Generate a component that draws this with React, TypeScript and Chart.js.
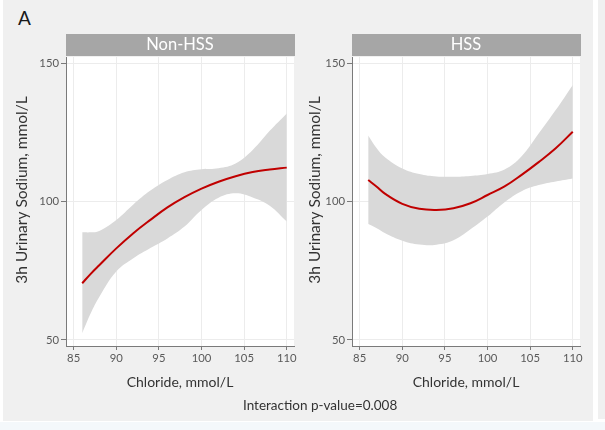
import React, { useEffect, useRef } from "react";
import { Chart, registerables } from "chart.js";

Chart.register(...registerables);

// ---- data ----
const chlorideLeft = [86, 87, 88, 90, 92, 94, 96, 98, 100, 102, 104, 106, 108, 110];
const nonHssFit = [70.5, 73.9, 77.0, 83.1, 88.6, 93.4, 97.9, 101.6, 104.7, 107.2, 109.2, 110.7, 111.6, 112.3];
const nonHssUpper = [88.9, 88.9, 89.4, 93.4, 99.0, 104.0, 107.8, 110.6, 111.7, 112.1, 113.8, 118.7, 125.6, 131.9];
const nonHssLower = [52.4, 59.6, 65.5, 74.7, 79.5, 83.2, 86.7, 91.0, 97.0, 101.4, 103.0, 101.5, 98.5, 92.8];

const chlorideRight = [86, 87, 88, 90, 92, 94, 96, 98, 100, 102, 104, 106, 108, 110];
const hssFit = [107.8, 105.4, 102.8, 99.2, 97.4, 97.0, 97.6, 99.4, 102.4, 105.5, 109.7, 114.3, 119.3, 125.3];
const hssUpper = [123.9, 119.3, 116.0, 112.0, 110.0, 109.1, 109.0, 109.3, 110.0, 111.6, 116.4, 124.6, 133.1, 142.2];
const hssLower = [91.9, 90.4, 88.6, 85.9, 84.5, 84.4, 86.0, 90.0, 94.6, 99.8, 103.8, 106.0, 107.3, 108.4];

const xTicks = [85, 90, 95, 100, 105, 110];
const yTicks = [50, 100, 150];
const xRange = [84.1, 110.85];
const yRange = [47.8, 152.3];

const panelTitles = ["Non-HSS", "HSS"];
const xTitle = "Chloride, mmol/L";
const yTitle = "3h Urinary Sodium, mmol/L";
const figureLabel = "A";
const footnote = "Interaction p-value=0.008";

const FONT = "Lato";

const panelPlugin = {
  id: "panel",
  beforeDraw(chart: any, _args: any, opts: any) {
    const { ctx, chartArea } = chart;
    const { left, top, right, bottom } = chartArea;
    ctx.save();
    ctx.fillStyle = "#ffffff";
    ctx.fillRect(left, top, right - left, bottom - top);
    ctx.fillStyle = "#a6a6a6";
    ctx.fillRect(left, top - 23, right - left + 1, 22);
    ctx.fillStyle = "#ffffff";
    ctx.font = `16.5px ${FONT}`;
    ctx.textAlign = "center";
    ctx.textBaseline = "middle";
    ctx.fillText(opts.label, (left + right) / 2, top - 12);
    // y axis title, centred on strip + panel
    ctx.fillStyle = "#333333";
    ctx.font = `15.5px ${FONT}`;
    ctx.textBaseline = "alphabetic";
    ctx.translate(opts.yTitleX, (top - 23 + bottom) / 2);
    ctx.rotate(-Math.PI / 2);
    ctx.fillText(yTitle, 0, 0);
    ctx.restore();
  },
};

function pts(xs: number[], ys: number[]) {
  return xs.map((x, i) => ({ x, y: ys[i] }));
}

function makeConfig(
  label: string,
  xs: number[],
  fit: number[],
  upper: number[],
  lower: number[],
  yAxisWidth: number,
  yTitleX: number,
  rightPad: number
): any {
  return {
    type: "line",
    data: {
      datasets: [
        {
          data: pts(xs, fit),
          borderWidth: 2,
          borderColor: "#c00000",
          pointRadius: 0,
          fill: false,
          tension: 0.4,
          order: 0,
        },
        {
          data: pts(xs, upper),
          borderWidth: 0,
          borderColor: "rgba(0,0,0,0)",
          backgroundColor: "#d9d9d9",
          pointRadius: 0,
          fill: "+1",
          tension: 0.4,
          order: 1,
        },
        {
          data: pts(xs, lower),
          borderWidth: 0,
          borderColor: "rgba(0,0,0,0)",
          pointRadius: 0,
          fill: false,
          tension: 0.4,
          order: 2,
        },
      ],
    },
    options: {
      animation: false,
      responsive: false,
      events: [],
      layout: { padding: { top: 57, right: rightPad, bottom: 0, left: 0 } },
      plugins: {
        legend: { display: false },
        tooltip: { enabled: false },
        filler: { drawTime: "beforeDatasetsDraw" },
        panel: { label, yTitleX },
      },
      scales: {
        x: {
          type: "linear",
          min: xRange[0],
          max: xRange[1],
          afterBuildTicks: (s: any) => {
            s.ticks = xTicks.map((v) => ({ value: v }));
          },
          afterFit: (s: any) => {
            s.height = 54;
          },
          grid: {
            color: "#ececec",
            tickColor: "#7a7a7a",
            tickLength: 4,
            lineWidth: 1,
          },
          border: { color: "#7a7a7a", width: 1 },
          ticks: {
            color: "#595959",
            font: { family: FONT, size: 11.3 },
            padding: 2,
            maxRotation: 0,
          },
          title: {
            display: true,
            text: xTitle,
            color: "#333333",
            font: { family: FONT, size: 14 },
            padding: { top: 0, bottom: 9.6 },
          },
        },
        y: {
          type: "linear",
          min: yRange[0],
          max: yRange[1],
          afterBuildTicks: (s: any) => {
            s.ticks = yTicks.map((v) => ({ value: v }));
          },
          afterFit: (s: any) => {
            s.width = yAxisWidth;
          },
          grid: {
            color: "#ececec",
            tickColor: "#7a7a7a",
            tickLength: 5,
            lineWidth: 1,
          },
          border: { color: "#7a7a7a", width: 1 },
          ticks: {
            color: "#595959",
            font: { family: FONT, size: 11.3 },
            padding: 2,
          },
          title: { display: false },
        },
      },
    },
    plugins: [panelPlugin],
  };
}

function Panel(props: { cfg: any; left: number; width: number }) {
  const ref = useRef<HTMLCanvasElement | null>(null);
  useEffect(() => {
    if (!ref.current) return;
    const chart = new Chart(ref.current, props.cfg);
    return () => chart.destroy();
  }, []);
  return (
    <canvas
      ref={ref}
      width={props.width}
      height={400}
      style={{ position: "absolute", left: props.left, top: 0, width: props.width, height: 400, display: "block" }}
    />
  );
}

export default function App() {
  const leftCfg = makeConfig(panelTitles[0], chlorideLeft, nonHssFit, nonHssUpper, nonHssLower, 63, 24, 6);
  const rightCfg = makeConfig(panelTitles[1], chlorideRight, hssFit, hssUpper, hssLower, 52, 19.5, 13);
  return (
    <div
      style={{
        position: "absolute",
        left: 0,
        top: 0,
        width: 605,
        height: 430,
        background: "#ffffff",
        overflow: "hidden",
        fontFamily: FONT,
      }}
    >
      <div style={{ position: "absolute", left: 3, top: 0, width: 590, height: 421, background: "#f0f0f0" }} />
      <div style={{ position: "absolute", left: 598, top: 0, width: 7, height: 419, background: "#f0f0f0" }} />
      <div style={{ position: "absolute", left: 0, top: 422, width: 605, height: 8, background: "#f4f8fb" }} />
      <div
        style={{
          position: "absolute",
          left: 18,
          top: 8,
          fontSize: 19,
          lineHeight: "19px",
          color: "#1a1a1a",
        }}
      >
        {figureLabel}
      </div>
      <Panel cfg={leftCfg} left={3} width={297} />
      <Panel cfg={rightCfg} left={300} width={293} />
      <div
        style={{
          position: "absolute",
          left: 243,
          top: 399,
          fontSize: 13.5,
          lineHeight: "13px",
          color: "#333333",
          whiteSpace: "nowrap",
        }}
      >
        {footnote}
      </div>
    </div>
  );
}
